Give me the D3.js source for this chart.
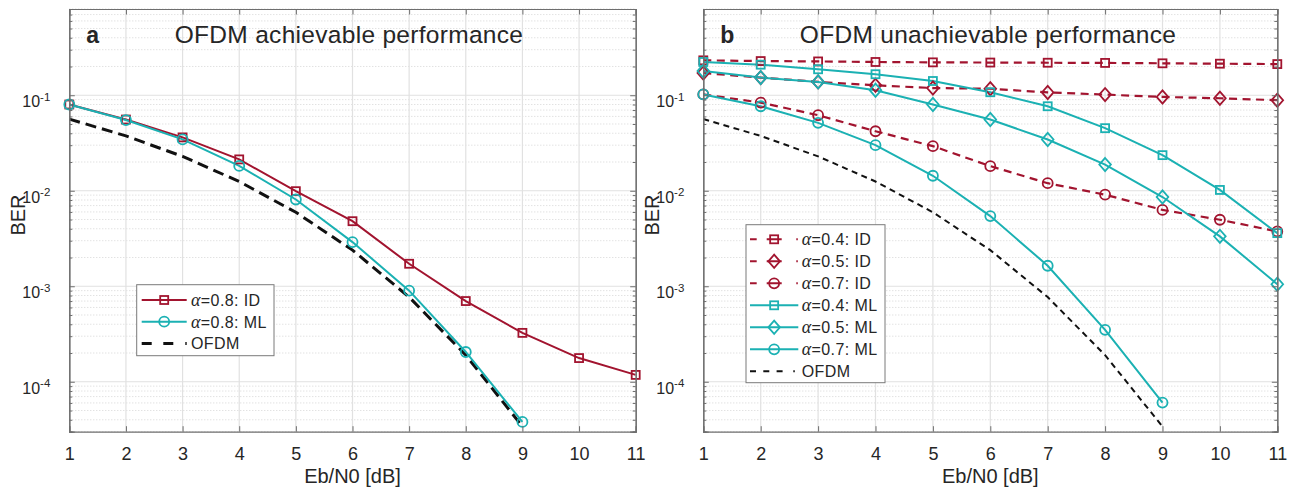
<!DOCTYPE html>
<html>
<head>
<meta charset="utf-8">
<script src="https://cdn.jsdelivr.net/npm/d3@7"></script>
<style>
  html, body { margin: 0; padding: 0; background: #fff; }
  svg text { font-family: "Liberation Sans", Arial, Helvetica, sans-serif; fill: #262626; }
</style>
</head>
<body>
<svg id="chart" width="1293" height="493"></svg>
<script>
// Eb/N0 sweep (dB)
const ebn0 = [1, 2, 3, 4, 5, 6, 7, 8, 9, 10, 11];

// Panel a: alpha = 0.8
const idAlpha08 = [0.080, 0.0557, 0.0362, 0.0213, 0.0099, 0.0048, 0.00172, 7.0e-4, 3.25e-4, 1.77e-4, 1.18e-4];
const mlAlpha08 = [0.080, 0.055, 0.0345, 0.0182, 0.0081, 0.0029, 9.0e-4, 2.05e-4, 3.8e-5];

// OFDM reference curve (both panels), 1..9 dB
const ofdmBer = [0.0563, 0.0375, 0.0229, 0.0125, 0.00595, 0.00239, 7.7e-4, 1.9e-4, 3.4e-5];

// Panel b: iterative detection (ID)
const idAlpha04 = [0.232, 0.228, 0.226, 0.223, 0.221, 0.220, 0.219, 0.218, 0.216, 0.214, 0.212];
const idAlpha05 = [0.171, 0.153, 0.138, 0.127, 0.119, 0.117, 0.107, 0.1016, 0.096, 0.093, 0.0887];
const idAlpha07 = [0.102, 0.0838, 0.0618, 0.042, 0.0293, 0.0181, 0.012, 0.0091, 0.0063, 0.00497, 0.00375];

// Panel b: maximum likelihood (ML)
const mlAlpha04 = [0.223, 0.209, 0.187, 0.166, 0.141, 0.1075, 0.0767, 0.0452, 0.0236, 0.0102, 0.0036];
const mlAlpha05 = [0.1795, 0.153, 0.138, 0.113, 0.080, 0.0557, 0.0344, 0.0188, 0.0086, 0.00333, 0.00105];
const mlAlpha07 = [0.102, 0.0767, 0.0514, 0.030, 0.01435, 0.00543, 0.00164, 3.5e-4, 6.05e-5];

// Axis ticks
const xTickValues = [1, 2, 3, 4, 5, 6, 7, 8, 9, 10, 11];
const yTickExponents = [-1, -2, -3, -4];
const yDomain = [3e-5, 0.8];

const RED = "#A2142F";
const TEAL = "#1BB1B3";
const FONT = "'Liberation Sans', Arial, Helvetica, sans-serif";

const svg = d3.select("#chart");

function diamondPath(cx, cy) {
  const w = 5.8, h = 6.6;
  return `M${cx},${cy - h}L${cx + w},${cy}L${cx},${cy + h}L${cx - w},${cy}Z`;
}

function drawMarker(g, shape, cx, cy, color) {
  if (shape === "square") {
    g.append("rect").attr("x", cx - 4).attr("y", cy - 4).attr("width", 8).attr("height", 8)
      .attr("fill", "none").attr("stroke", color).attr("stroke-width", 1.8);
  } else if (shape === "circle") {
    g.append("circle").attr("cx", cx).attr("cy", cy).attr("r", 5)
      .attr("fill", "none").attr("stroke", color).attr("stroke-width", 1.8);
  } else if (shape === "diamond") {
    g.append("path").attr("d", diamondPath(cx, cy))
      .attr("fill", "none").attr("stroke", color).attr("stroke-width", 1.8);
  }
}

function drawPanel(cfg) {
  const g = svg.append("g");
  const x = d3.scaleLinear().domain([1, 11]).range([cfg.left, cfg.right]);
  const y = d3.scaleLog().domain(yDomain).range([cfg.bottom, cfg.top]);

  const majors = yTickExponents.map(e => Math.pow(10, e));
  const minors = [];
  for (let e = -5; e <= -1; e++) {
    for (let m = 2; m <= 9; m++) {
      const v = m * Math.pow(10, e);
      if (v >= yDomain[0] && v <= yDomain[1]) minors.push(v);
    }
  }

  // grid: minor (dotted), then major (solid)
  const grid = g.append("g");
  grid.selectAll("line.minor").data(minors).join("line")
    .attr("x1", cfg.left).attr("x2", cfg.right)
    .attr("y1", d => y(d)).attr("y2", d => y(d))
    .attr("stroke", "#cccccc").attr("stroke-width", 0.8).attr("stroke-dasharray", "1,2");
  grid.selectAll("line.majy").data(majors).join("line")
    .attr("x1", cfg.left).attr("x2", cfg.right)
    .attr("y1", d => y(d)).attr("y2", d => y(d))
    .attr("stroke", "#e1e1e1").attr("stroke-width", 1.2);
  grid.selectAll("line.majx").data(xTickValues.slice(1, -1)).join("line")
    .attr("x1", d => x(d)).attr("x2", d => x(d))
    .attr("y1", cfg.top).attr("y2", cfg.bottom)
    .attr("stroke", "#e1e1e1").attr("stroke-width", 1.2);

  // series
  const clipId = "clip-" + cfg.name;
  svg.append("clipPath").attr("id", clipId).append("rect")
    .attr("x", cfg.left).attr("y", cfg.top)
    .attr("width", cfg.right - cfg.left).attr("height", cfg.bottom - cfg.top);
  const plot = g.append("g").attr("clip-path", `url(#${clipId})`);
  const line = d3.line().x((d, i) => x(ebn0[i])).y(d => y(d));
  cfg.series.forEach(s => {
    plot.append("path").datum(s.values).attr("d", line)
      .attr("fill", "none").attr("stroke", s.color).attr("stroke-width", s.width)
      .attr("stroke-dasharray", s.dash || null);
    if (s.marker) {
      s.values.forEach((v, i) => drawMarker(g, s.marker, x(ebn0[i]), y(v), s.color));
    }
  });

  // axes (ticks inward on all four sides)
  const axisColor = "#6e6e6e";
  const bottomAxis = g.append("g").attr("transform", `translate(0,${cfg.bottom})`)
    .call(d3.axisBottom(x).tickValues(xTickValues).tickSize(-5.5).tickPadding(15.5).tickFormat(d3.format("d")));
  g.append("g").attr("transform", `translate(0,${cfg.top})`)
    .call(d3.axisTop(x).tickValues(xTickValues).tickSize(-5.5).tickFormat(""));
  const leftAxis = g.append("g").attr("transform", `translate(${cfg.left},0)`)
    .call(d3.axisLeft(y).tickValues(majors).tickSize(-5.5).tickPadding(19));
  g.append("g").attr("transform", `translate(${cfg.right},0)`)
    .call(d3.axisRight(y).tickValues(majors).tickSize(-5.5).tickFormat(""));
  g.append("g").attr("transform", `translate(${cfg.left},0)`)
    .call(d3.axisLeft(y).tickValues(minors).tickSize(-3).tickFormat(""));
  g.append("g").attr("transform", `translate(${cfg.right},0)`)
    .call(d3.axisRight(y).tickValues(minors).tickSize(-3).tickFormat(""));

  g.selectAll(".domain").attr("stroke", axisColor).attr("stroke-width", 1.2);
  g.selectAll(".tick line").attr("stroke", axisColor).attr("stroke-width", 1);

  bottomAxis.selectAll("text").attr("font-size", 18).attr("fill", "#262626")
    .style("font-family", FONT);

  leftAxis.selectAll(".tick text").each(function (d) {
    const t = d3.select(this);
    const exp = Math.round(Math.log10(d));
    t.text(null).attr("dy", 0).attr("fill", "#262626").style("font-family", FONT);
    t.append("tspan").attr("dy", 11.5).attr("font-size", 16).text("10");
    t.append("tspan").attr("dy", -6.5).attr("font-size", 11.5).text(String(exp));
  });

  // labels
  g.append("text").attr("x", (cfg.left + cfg.right) / 2).attr("y", 483)
    .attr("text-anchor", "middle").attr("font-size", 20).text("Eb/N0 [dB]");
  g.append("text").attr("transform", `translate(${cfg.ylabelX},215) rotate(-90)`)
    .attr("text-anchor", "middle").attr("font-size", 20).text("BER");
  g.append("text").attr("x", cfg.left + 17).attr("y", 42.7)
    .attr("font-size", 23).attr("font-weight", "bold").text(cfg.letter);
  g.append("text").attr("x", cfg.titleX).attr("y", 42.7)
    .attr("text-anchor", "middle").attr("font-size", 24.5).attr("letter-spacing", 0.3)
    .text(cfg.title);

  // legend
  const L = cfg.legend;
  const lg = g.append("g");
  lg.append("rect").attr("x", L.x0).attr("y", L.y0)
    .attr("width", L.x1 - L.x0).attr("height", L.y1 - L.y0)
    .attr("fill", "#fff").attr("stroke", "#7a7a7a").attr("stroke-width", 1);
  L.items.forEach((it, i) => {
    const cy = L.row0 + i * L.rowStep;
    lg.append("line").attr("x1", L.lx0).attr("x2", L.lx1).attr("y1", cy).attr("y2", cy)
      .attr("stroke", it.color).attr("stroke-width", it.width)
      .attr("stroke-dasharray", it.dash || null);
    if (it.marker) drawMarker(lg, it.marker, (L.lx0 + L.lx1) / 2, cy, it.color);
    const t = lg.append("text").attr("x", L.tx).attr("y", cy + 5.8).attr("font-size", 16)
      .attr("letter-spacing", 0.4);
    if (it.alpha) {
      t.append("tspan").attr("font-family", "'Liberation Serif', 'DejaVu Serif', serif")
        .attr("font-style", "italic").attr("font-size", 18).text("\u03B1");
      t.append("tspan").text(it.label);
    } else {
      t.text(it.label);
    }
  });
}

drawPanel({
  name: "a", letter: "a", title: "OFDM achievable performance",
  left: 69.3, right: 635.7, top: 9, bottom: 431.7, ylabelX: 25, titleX: 349,
  series: [
    { values: ofdmBer, color: "#111", width: 3, dash: "11,6" },
    { values: idAlpha08, color: RED, width: 2, marker: "square" },
    { values: mlAlpha08, color: TEAL, width: 2, marker: "circle" }
  ],
  legend: {
    x0: 136.7, x1: 274, y0: 284.7, y1: 355.7, row0: 300, rowStep: 21.7,
    lx0: 141.7, lx1: 186.7, tx: 191,
    items: [
      { alpha: true, label: "=0.8: ID", color: RED, width: 2, marker: "square" },
      { alpha: true, label: "=0.8: ML", color: TEAL, width: 2, marker: "circle" },
      { alpha: false, label: "OFDM", color: "#111", width: 3, dash: "10,11.6,10,12,1.5,100" }
    ]
  }
});

drawPanel({
  name: "b", letter: "b", title: "OFDM unachievable performance",
  left: 703.3, right: 1277.3, top: 9, bottom: 431.7, ylabelX: 659, titleX: 988,
  series: [
    { values: ofdmBer, color: "#111", width: 2, dash: "6,4.5" },
    { values: idAlpha04, color: RED, width: 2.2, dash: "8,5.5", marker: "square" },
    { values: idAlpha05, color: RED, width: 2.2, dash: "8,5.5", marker: "diamond" },
    { values: idAlpha07, color: RED, width: 2.2, dash: "8,5.5", marker: "circle" },
    { values: mlAlpha04, color: TEAL, width: 2, marker: "square" },
    { values: mlAlpha05, color: TEAL, width: 2, marker: "diamond" },
    { values: mlAlpha07, color: TEAL, width: 2, marker: "circle" }
  ],
  legend: {
    x0: 746, x1: 885, y0: 224.7, y1: 382.7, row0: 239.3, rowStep: 22,
    lx0: 750, lx1: 798.3, tx: 801.7,
    items: [
      { alpha: true, label: "=0.4: ID", color: RED, width: 2, marker: "square", dash: "6.7,10,15,14.6,1.5,20" },
      { alpha: true, label: "=0.5: ID", color: RED, width: 2, marker: "diamond", dash: "6.7,10,15,14.6,1.5,20" },
      { alpha: true, label: "=0.7: ID", color: RED, width: 2, marker: "circle", dash: "6.7,10,15,14.6,1.5,20" },
      { alpha: true, label: "=0.4: ML", color: TEAL, width: 2, marker: "square" },
      { alpha: true, label: "=0.5: ML", color: TEAL, width: 2, marker: "diamond" },
      { alpha: true, label: "=0.7: ML", color: TEAL, width: 2, marker: "circle" },
      { alpha: false, label: "OFDM", color: "#111", width: 2, dash: "6,7.3,6,7.3,6,10.7,1.5,20" }
    ]
  }
});
</script>
</body>
</html>
